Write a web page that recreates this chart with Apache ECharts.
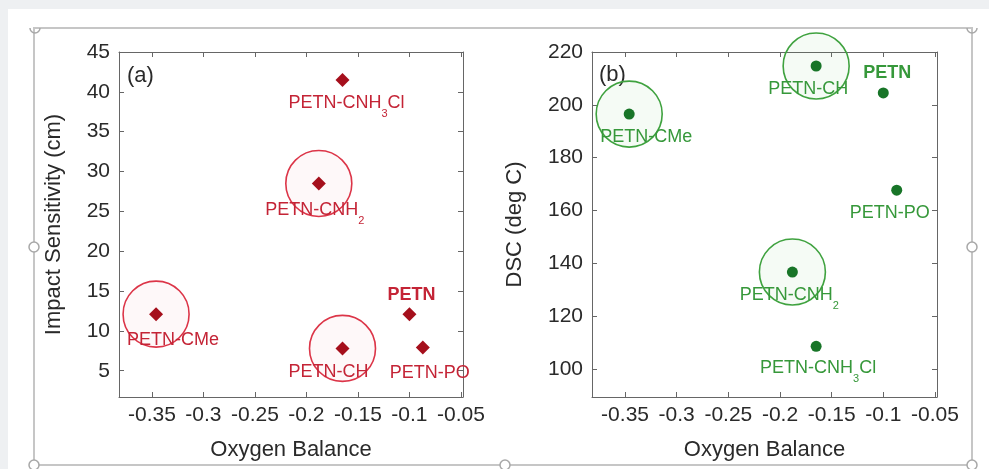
<!DOCTYPE html>
<html><head><meta charset="utf-8">
<script src="https://cdn.jsdelivr.net/npm/echarts@6/dist/echarts.min.js"></script>
<style>html,body{margin:0;padding:0;background:#fff;} #c{width:989px;height:469px;}</style>
</head><body><div id="c"></div>
<script>
// ---- data ----
const compounds = ['PETN', 'PETN-PO', 'PETN-CH', 'PETN-CMe', 'PETN-CNH2', 'PETN-CNH3Cl'];
const oxygenBalance = [-0.100, -0.087, -0.165, -0.346, -0.188, -0.165];
const impactSensitivity = [12.1, 7.9, 7.8, 12.1, 28.5, 41.5];
const dscTemperature = [204.5, 167.7, 214.7, 196.5, 136.7, 108.6];
const circled = ['PETN-CH', 'PETN-CMe', 'PETN-CNH2'];
const xTicks = [-0.35, -0.3, -0.25, -0.2, -0.15, -0.1, -0.05];
const impactTicks = [5, 10, 15, 20, 25, 30, 35, 40, 45];
const dscTicks = [100, 120, 140, 160, 180, 200, 220];

// ---- styles ----
const FONT = 'Liberation Sans, Arial, sans-serif';
const leftLabelOffset = {
  'PETN': [2, -19], 'PETN-PO': [7, 25], 'PETN-CH': [-14, 24],
  'PETN-CMe': [17, 26], 'PETN-CNH2': [-4, 27], 'PETN-CNH3Cl': [4, 23]
};
const rightLabelOffset = {
  'PETN': [4, -20], 'PETN-PO': [-7, 23], 'PETN-CH': [-8, 23],
  'PETN-CMe': [17, 23], 'PETN-CNH2': [-3, 23], 'PETN-CNH3Cl': [2, 22]
};
function richName(n) { return n.replace(/CNH(\d)/, 'CNH{s|$1}'); }
function fmtX(v) { return String(+(+v).toFixed(2)); }

function pointData(yArr, offsets) {
  return compounds.map((n, i) => ({
    name: n,
    value: [oxygenBalance[i], yArr[i]],
    label: { offset: offsets[n], fontWeight: n === 'PETN' ? 'bold' : 'normal' }
  }));
}
function circleData(yArr) {
  return compounds.map((n, i) => circled.includes(n) ? { name: n, value: [oxygenBalance[i], yArr[i]] } : null)
    .filter(d => d);
}

const axisColor = '#666';
function xAxes(grid) {
  return [
    {
      gridIndex: grid, type: 'value', min: -0.382, max: -0.048, position: 'bottom',
      name: 'Oxygen Balance', nameLocation: 'middle', nameGap: 42,
      nameTextStyle: { fontSize: 22, color: '#2a2a2a', fontFamily: FONT },
      axisLine: { show: true, onZero: false, lineStyle: { color: axisColor, width: 1 } },
      axisTick: { show: true, inside: true, length: 5, customValues: xTicks, lineStyle: { color: axisColor } },
      axisLabel: { show: true, customValues: xTicks, fontSize: 21, color: '#2a2a2a', margin: 8, fontFamily: FONT, formatter: fmtX },
      splitLine: { show: false }
    },
    {
      gridIndex: grid, type: 'value', min: -0.382, max: -0.048, position: 'top',
      axisLine: { show: true, onZero: false, lineStyle: { color: axisColor, width: 1 } },
      axisTick: { show: true, inside: true, length: 5, customValues: xTicks, lineStyle: { color: axisColor } },
      axisLabel: { show: false }, splitLine: { show: false }
    }
  ];
}
function yAxes(grid, min, max, ticks, name, gap) {
  return [
    {
      gridIndex: grid, type: 'value', min: min, max: max, position: 'left',
      name: name, nameLocation: 'middle', nameGap: gap,
      nameTextStyle: { fontSize: 22, color: '#2a2a2a', fontFamily: FONT },
      axisLine: { show: true, onZero: false, lineStyle: { color: axisColor, width: 1 } },
      axisTick: { show: true, inside: true, length: 5, customValues: ticks, lineStyle: { color: axisColor } },
      axisLabel: { show: true, customValues: ticks, fontSize: 21, color: '#2a2a2a', margin: 9, fontFamily: FONT },
      splitLine: { show: false }
    },
    {
      gridIndex: grid, type: 'value', min: min, max: max, position: 'right',
      axisLine: { show: true, onZero: false, lineStyle: { color: axisColor, width: 1 } },
      axisTick: { show: true, inside: true, length: 5, customValues: ticks, lineStyle: { color: axisColor } },
      axisLabel: { show: false }, splitLine: { show: false }
    }
  ];
}

function labelStyle(color) {
  return {
    show: true, position: 'inside', color: color, fontSize: 18, fontFamily: FONT,
    formatter: p => richName(p.name),
    rich: { s: { fontSize: 11, color: color, fontFamily: FONT, padding: [22, 0, 0, 0] } }
  };
}

const red = { mark: '#a50f1c', label: '#c42436', ring: '#dc3548', fill: 'rgba(235,90,110,0.045)' };
const green = { mark: '#187528', label: '#36983a', ring: '#3fa23f', fill: 'rgba(90,180,90,0.06)' };

const handles = [[34, 247], [972, 247], [34, 465], [505, 465], [972, 465]];

const option = {
  animation: false,
  backgroundColor: '#fff',
  grid: [
    { left: 119, top: 52, width: 344, height: 345 },
    { left: 592, top: 52, width: 345, height: 345 }
  ],
  xAxis: [...xAxes(0), ...xAxes(1)],
  yAxis: [
    ...yAxes(0, 1.7, 45, impactTicks, 'Impact Sensitivity (cm)', 54),
    ...yAxes(1, 89.4, 220, dscTicks, 'DSC (deg C)', 66)
  ],
  graphic: [
    { type: 'rect', silent: true, z: -10, shape: { x: 0, y: 0, width: 989, height: 9 }, style: { fill: '#eef0f2' } },
    { type: 'rect', silent: true, z: -10, shape: { x: 0, y: 0, width: 8, height: 469 }, style: { fill: '#eef0f2' } },
    { type: 'rect', silent: true, z: -5, shape: { x: 34, y: 28, width: 938, height: 437 }, style: { fill: 'none', stroke: '#c6c6c6', lineWidth: 2 } },
    { type: 'arc', silent: true, shape: { cx: 35, cy: 28, r: 5, startAngle: 0, endAngle: Math.PI, clockwise: true }, style: { fill: 'none', stroke: '#a8a8a8', lineWidth: 1.5 } },
    { type: 'arc', silent: true, shape: { cx: 972, cy: 28, r: 5, startAngle: 0, endAngle: Math.PI, clockwise: true }, style: { fill: 'none', stroke: '#a8a8a8', lineWidth: 1.5 } },
    ...handles.map(h => ({ type: 'circle', silent: true, shape: { cx: h[0], cy: h[1], r: 5 }, style: { fill: '#fff', stroke: '#a8a8a8', lineWidth: 1.5 } })),
    { type: 'text', silent: true, left: 127, top: 65, style: { text: '(a)', fontSize: 22, fill: '#2a2a2a', fontFamily: FONT } },
    { type: 'text', silent: true, left: 599, top: 64, style: { text: '(b)', fontSize: 22, fill: '#2a2a2a', fontFamily: FONT } }
  ],
  series: [
    {
      type: 'scatter', xAxisIndex: 0, yAxisIndex: 0, symbol: 'circle', symbolSize: 66, silent: true, z: 1,
      itemStyle: { color: red.fill, borderColor: red.ring, borderWidth: 1.6, opacity: 1 },
      data: circleData(impactSensitivity)
    },
    {
      type: 'scatter', xAxisIndex: 0, yAxisIndex: 0, symbol: 'diamond', symbolSize: 14, z: 3,
      itemStyle: { color: red.mark, opacity: 1 },
      label: labelStyle(red.label),
      data: pointData(impactSensitivity, leftLabelOffset)
    },
    {
      type: 'scatter', xAxisIndex: 2, yAxisIndex: 2, symbol: 'circle', symbolSize: 66, silent: true, z: 1,
      itemStyle: { color: green.fill, borderColor: green.ring, borderWidth: 1.6, opacity: 1 },
      data: circleData(dscTemperature)
    },
    {
      type: 'scatter', xAxisIndex: 2, yAxisIndex: 2, symbol: 'circle', symbolSize: 11, z: 3,
      itemStyle: { color: green.mark, opacity: 1 },
      label: labelStyle(green.label),
      data: pointData(dscTemperature, rightLabelOffset)
    }
  ]
};
const chart = echarts.init(document.getElementById('c'), null, { renderer: 'canvas' });
chart.setOption(option);
</script>
</body></html>
